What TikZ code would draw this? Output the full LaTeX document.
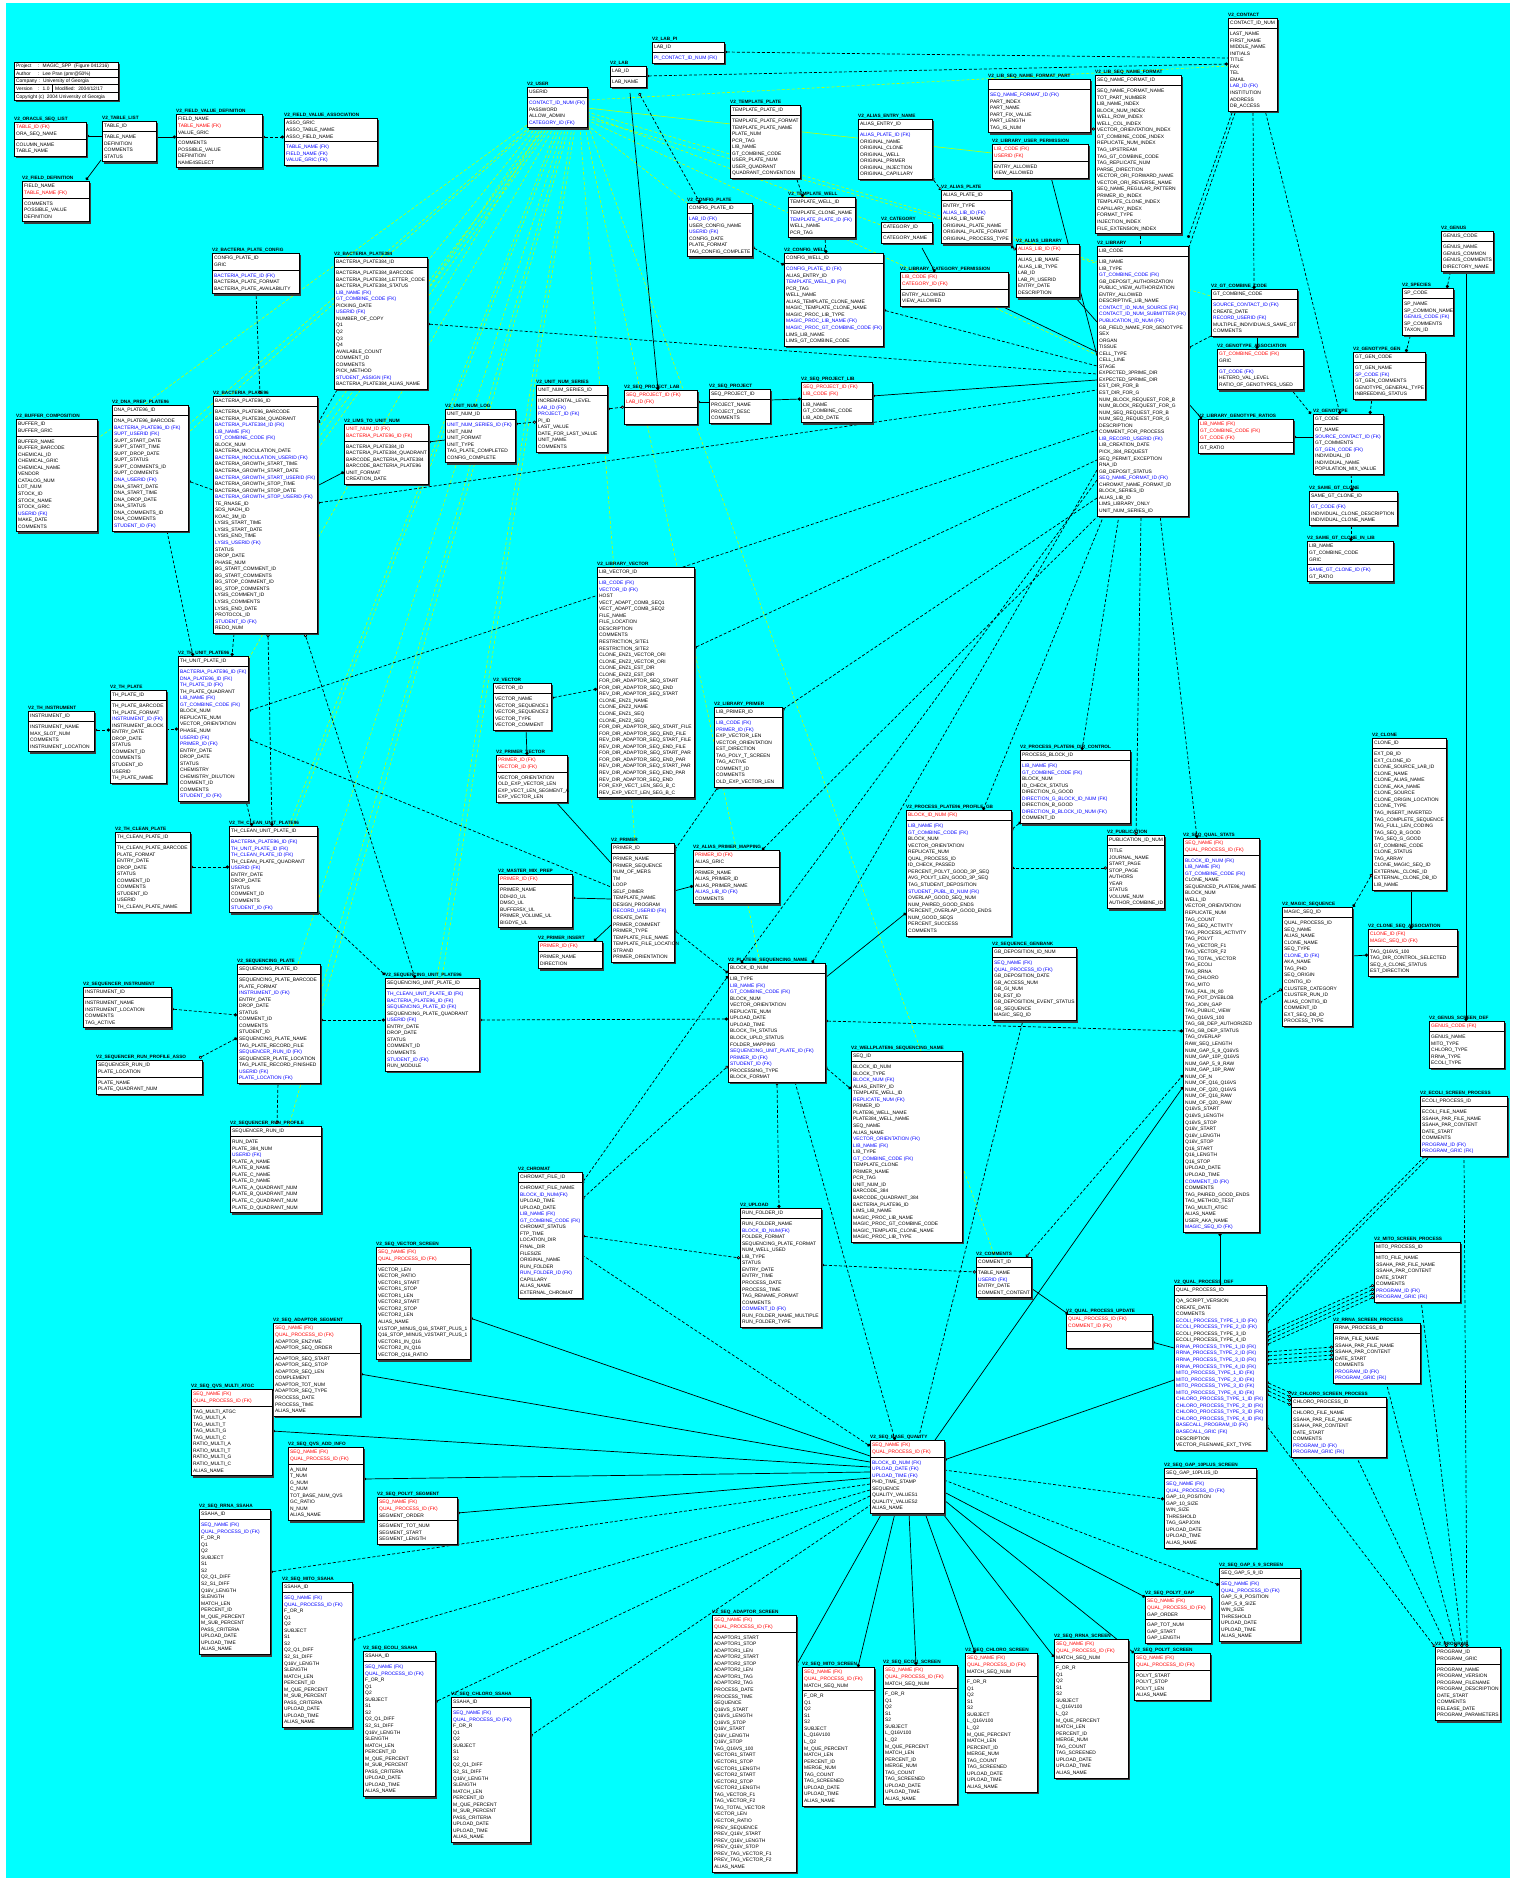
\documentclass[tikz,border=0pt]{standalone}
\usepackage{fontspec}
\setmainfont{Liberation Sans}
\usepackage{xstring}
\usetikzlibrary{calc,arrows.meta}
\pgfdeclarelayer{back}\pgfdeclarelayer{bg}
\pgfsetlayers{back,bg,main}
\definecolor{cyanbg}{RGB}{0,255,255}
\definecolor{ygreen}{RGB}{195,255,0}
\definecolor{shadowc}{RGB}{60,60,60}
\newcommand\rowfont{\fontsize{4.9}{5}\selectfont}
\newcommand\titlefont{\bfseries\fontsize{4.7}{5}\selectfont}
\newcount\nkeys \newcount\nattr
\newcommand\blank{}
\def\blankrow{\blank}
\tikzset{
  Dt/.tip={Circle[length=3.2pt]},
  Ot/.tip={Circle[open,length=3.2pt,fill=white]},
  tbox/.style={draw,fill=white,line width=0.8pt,inner sep=0pt,outer sep=0pt},
  sepline/.style={line width=0.6pt},
  ttl/.style={anchor=base west,inner sep=0pt,font=\titlefont},
  rowstyle/.style={anchor=base west,inner sep=0pt,font=\rowfont},
  ss/.style={line width=0.7pt},
  dd/.style={line width=0.7pt,dash pattern=on 3pt off 2pt},
  yl/.style={draw=ygreen,line width=0.6pt,dash pattern=on 3pt off 2pt},
  ys/.style={draw=ygreen,line width=0.6pt},
}
\newcommand\rowtxt[3]{%
  \ifx\rw\blankrow\else
    \IfSubStr{\rw}{(FK)}{\def\rc{#3}}{\def\rc{black}}%
    \node[rowstyle,text=\rc] at (#1+2,#2+1.7) {\detokenize\expandafter{\rw}};%
  \fi}
\newcommand\tb[7]{%
  \expandafter\gdef\csname X@#1\endcsname{#3}%
  \expandafter\gdef\csname Y@#1\endcsname{#4}%
  \global\nkeys=0 \foreach \rw in {#6}{\global\advance\nkeys by 1}%
  \global\nattr=0 \foreach \rw in {#7}{\global\advance\nattr by 1}%
  \pgfmathsetmacro\hk{\the\nkeys*6.55+4}%
  \pgfmathsetmacro\hb{\the\nattr*6.55+4}%
  \pgfmathsetmacro\ysp{#4+\hk}%
  \pgfmathsetmacro\ybt{#4+\hk+\hb}%
  \pgfmathsetmacro\hh{\hk+\hb}%
  \fill[shadowc] (#3+2,#4+2) rectangle (#3+#5+2,\ybt+2);
  \node[tbox,minimum width=#5pt,minimum height=\hh pt,anchor=north west] (#1) at (#3,#4) {};
  \draw[sepline] (#3,\ysp) -- (#3+#5,\ysp);
  \node[ttl] at (#3,#4-1.8) {\detokenize{#2}};
  \foreach \rw [count=\ri from 0] in {#6}{\rowtxt{#3}{#4+2+6.55*\ri+3.275}{red}}%
  \foreach \rw [count=\ri from 0] in {#7}{\rowtxt{#3}{\ysp+2+6.55*\ri+3.275}{blue}}%
}
\newcommand\cn[7][]{%
  \draw[#1] ($(#2.north west)+(#3-\csname X@#2\endcsname,#4-\csname Y@#2\endcsname)$) -- ($(#5.north west)+(#6-\csname X@#5\endcsname,#7-\csname Y@#5\endcsname)$);}
\begin{document}
\begin{tikzpicture}[x=1pt,y=-1pt]
\useasboundingbox (0,0) rectangle (1513,1878);
\begin{pgfonlayer}{back}
\fill[white] (0,0) rectangle (1513,1878);
\fill[cyanbg] (6,3) rectangle (1510,1878);
\end{pgfonlayer}
% info box
\fill[shadowc] (16,64) rectangle (120,102);
\foreach \k in {0,...,4}{\node[tbox,minimum width=104pt,minimum height=7.6pt,anchor=north west] (info\k) at (14,62+7.6*\k) {};}
\draw[line width=0.6pt] (info3.north west) ++(38,0) -- ++(0,7.6);
\node[rowstyle] at (16,67.8) {Project};
\node[rowstyle] at (38,67.8) {: \ MAGIC\_SPP \ (Figure 041216)};
\node[rowstyle] at (16,75.4) {Author};
\node[rowstyle] at (38,75.4) {: \ Lee Pran (pmr@50\%)};
\node[rowstyle] at (16,83) {Company : \ University of Georgia};
\node[rowstyle] at (16,90.6) {Version};
\node[rowstyle] at (38,90.6) {: \ 1.0};
\node[rowstyle] at (55,90.6) {Modified: \ 2004/12/17};
\node[rowstyle] at (16,98.2) {Copyright (c) \ 2004 University of Georgia};
% tables
\tb{ora}{V2_ORACLE_SEQ_LIST}{14}{122}{72}{TABLE_ID (FK),ORA_SEQ_NAME}{COLUMN_NAME,TABLE_NAME}
\tb{tl}{V2_TABLE_LIST}{102}{121}{54}{TABLE_ID}{TABLE_NAME,DEFINITION,COMMENTS,STATUS}
\tb{fvd}{V2_FIELD_VALUE_DEFINITION}{176}{114}{86}{FIELD_NAME,TABLE_NAME (FK),VALUE_GRIC}{COMMENTS,POSSIBLE_VALUE,DEFINITION,NAME4SELECT}
\tb{fva}{V2_FIELD_VALUE_ASSOCIATION}{284}{118}{93}{ASSO_GRIC,ASSO_TABLE_NAME,ASSO_FIELD_NAME}{TABLE_NAME (FK),FIELD_NAME (FK),VALUE_GRIC (FK)}
\tb{fd}{V2_FIELD_DEFINITION}{22}{181}{67}{FIELD_NAME,TABLE_NAME (FK)}{COMMENTS,POSSIBLE_VALUE,DEFINITION}
\tb{bpc}{V2_BACTERIA_PLATE_CONFIG}{212}{253}{87}{CONFIG_PLATE_ID,GRIC}{BACTERIA_PLATE_ID (FK),BACTERIA_PLATE_FORMAT,BACTERIA_PLATE_AVAILABILITY}
\tb{bpl}{V2_BACTERIA_PLATE384}{334}{257}{93}{BACTERIA_PLATE384_ID}{BACTERIA_PLATE384_BARCODE,BACTERIA_PLATE384_LETTER_CODE,BACTERIA_PLATE384_STATUS,LIB_NAME (FK),GT_COMBINE_CODE (FK),PICKING_DATE,USERID (FK),NUMBER_OF_COPY,Q1,Q2,Q3,Q4,AVAILABLE_COUNT,COMMENT_ID,COMMENTS,PICK_METHOD,STUDENT_ASSIGN (FK),BACTERIA_PLATE384_ALIAS_NAME}
\tb{bps}{V2_BACTERIA_PLATE96}{213}{396}{104}{BACTERIA_PLATE96_ID}{BACTERIA_PLATE96_BARCODE,BACTERIA_PLATE384_QUADRANT,BACTERIA_PLATE384_ID (FK),LIB_NAME (FK),GT_COMBINE_CODE (FK),BLOCK_NUM,BACTERIA_INOCULATION_DATE,BACTERIA_INOCULATION_USERID (FK),BACTERIA_GROWTH_START_TIME,BACTERIA_GROWTH_START_DATE,BACTERIA_GROWTH_START_USERID (FK),BACTERIA_GROWTH_STOP_TIME,BACTERIA_GROWTH_STOP_DATE,BACTERIA_GROWTH_STOP_USERID (FK),TE_RNASE_ID,SDS_NAOH_ID,KOAC_3M_ID,LYSIS_START_TIME,LYSIS_START_DATE,LYSIS_END_TIME,LYSIS_USERID (FK),STATUS,DROP_DATE,PHASE_NUM,BG_START_COMMENT_ID,BG_START_COMMENTS,BG_STOP_COMMENT_ID,BG_STOP_COMMENTS,LYSIS_COMMENT_ID,LYSIS_COMMENTS,LYSIS_END_DATE,PROTOCOL_ID,STUDENT_ID (FK),REDO_NUM}
\tb{dna}{V2_DNA_PREP_PLATE96}{112}{405}{76}{DNA_PLATE96_ID}{DNA_PLATE96_BARCODE,BACTERIA_PLATE96_ID (FK),SUPT_USERID (FK),SUPT_START_DATE,SUPT_START_TIME,SUPT_DROP_DATE,SUPT_STATUS,SUPT_COMMENTS_ID,SUPT_COMMENTS,DNA_USERID (FK),DNA_START_DATE,DNA_START_TIME,DNA_DROP_DATE,DNA_STATUS,DNA_COMMENTS_ID,DNA_COMMENTS,STUDENT_ID (FK)}
\tb{buf}{V2_BUFFER_COMPOSITION}{16}{419}{81}{BUFFER_ID,BUFFER_GRIC}{BUFFER_NAME,BUFFER_BARCODE,CHEMICAL_ID,CHEMICAL_GRIC,CHEMICAL_NAME,VENDOR,CATALOG_NUM,LOT_NUM,STOCK_ID,STOCK_NAME,STOCK_GRIC,USERID (FK),MAKE_DATE,COMMENTS}
\tb{lims}{V2_LIMS_TO_UNIT_NUM}{344}{424}{84}{UNIT_NUM_ID (FK),BACTERIA_PLATE96_ID (FK)}{BACTERIA_PLATE384_ID,BACTERIA_PLATE384_QUADRANT,BARCODE_BACTERIA_PLATE384,BARCODE_BACTERIA_PLATE96,UNIT_FORMAT,CREATION_DATE}
\tb{unl}{V2_UNIT_NUM_LOG}{445}{409}{70}{UNIT_NUM_ID}{UNIT_NUM_SERIES_ID (FK),UNIT_NUM,UNIT_FORMAT,UNIT_TYPE,TAG_PLATE_COMPLETED,CONFIG_COMPLETE}
\tb{labpi}{V2_LAB_PI}{652}{42}{72}{LAB_ID}{PI_CONTACT_ID_NUM (FK)}
\tb{lab}{V2_LAB}{610}{66}{36}{LAB_ID}{LAB_NAME}
\tb{user}{V2_USER}{527}{87}{60}{USERID}{CONTACT_ID_NUM (FK),PASSWORD,ALLOW_ADMIN,CATEGORY_ID (FK)}
\tb{tp}{V2_TEMPLATE_PLATE}{730}{105}{70}{TEMPLATE_PLATE_ID}{TEMPLATE_PLATE_FORMAT,TEMPLATE_PLATE_NAME,PLATE_NUM,PCR_TAG,LIB_NAME,GT_COMBINE_CODE,USER_PLATE_NUM,USER_QUADRANT,QUADRANT_CONVENTION}
\tb{aen}{V2_ALIAS_ENTRY_NAME}{858}{119}{74}{ALIAS_ENTRY_ID}{ALIAS_PLATE_ID (FK),ORIGINAL_NAME,ORIGINAL_CLONE,ORIGINAL_WELL,ORIGINAL_PRIMER,ORIGINAL_INJECTION,ORIGINAL_CAPILLARY}
\tb{cp}{V2_CONFIG_PLATE}{687}{203}{65}{CONFIG_PLATE_ID}{LAB_ID (FK),USER_CONFIG_NAME,USERID (FK),CONFIG_DATE,PLATE_FORMAT,TAG_CONFIG_COMPLETE}
\tb{tw}{V2_TEMPLATE_WELL}{788}{197}{67}{TEMPLATE_WELL_ID}{TEMPLATE_CLONE_NAME,TEMPLATE_PLATE_ID (FK),WELL_NAME,PCR_TAG}
\tb{cat}{V2_CATEGORY}{881}{222}{51}{CATEGORY_ID}{CATEGORY_NAME}
\tb{ap}{V2_ALIAS_PLATE}{941}{190}{70}{ALIAS_PLATE_ID}{ENTRY_TYPE,ALIAS_LIB_ID (FK),ALIAS_LIB_NAME,ORIGINAL_PLATE_NAME,ORIGINAL_PLATE_FORMAT,ORIGINAL_PROCESS_TYPE}
\tb{cw}{V2_CONFIG_WELL}{784}{253}{99}{CONFIG_WELL_ID}{CONFIG_PLATE_ID (FK),ALIAS_ENTRY_ID,TEMPLATE_WELL_ID (FK),PCR_TAG,WELL_NAME,ALIAS_TEMPLATE_CLONE_NAME,MAGIC_TEMPLATE_CLONE_NAME,MAGIC_PROC_LIB_TYPE,MAGIC_PROC_LIB_NAME (FK),MAGIC_PROC_GT_COMBINE_CODE (FK),LIMS_LIB_NAME,LIMS_GT_COMBINE_CODE}
\tb{lcp}{V2_LIBRARY_CATEGORY_PERMISSION}{900}{272}{108}{LIB_CODE (FK),CATEGORY_ID (FK)}{ENTRY_ALLOWED,VIEW_ALLOWED}
\tb{uns}{V2_UNIT_NUM_SERIES}{536}{385}{71}{UNIT_NUM_SERIES_ID}{INCREMENTAL_LEVEL,LAB_ID (FK),PROJECT_ID (FK),PI_ID,LAST_VALUE,DATE_FOR_LAST_VALUE,UNIT_NAME,COMMENTS}
\tb{spl}{V2_SEQ_PROJECT_LAB}{624}{390}{73}{SEQ_PROJECT_ID (FK),LAB_ID (FK)}{\blank,\blank}
\tb{sp}{V2_SEQ_PROJECT}{709}{389}{61}{SEQ_PROJECT_ID}{PROJECT_NAME,PROJECT_DESC,COMMENTS}
\tb{splib}{V2_SEQ_PROJECT_LIB}{801}{382}{71}{SEQ_PROJECT_ID (FK),LIB_CODE (FK)}{LIB_NAME,GT_COMBINE_CODE,LIB_ADD_DATE}
\tb{contact}{V2_CONTACT}{1228}{18}{49}{CONTACT_ID_NUM}{LAST_NAME,FIRST_NAME,MIDDLE_NAME,INITIALS,TITLE,FAX,TEL,EMAIL,LAB_ID (FK),INSTITUTION,ADDRESS,DB_ACCESS}
\tb{snfp}{V2_LIB_SEQ_NAME_FORMAT_PART}{988}{79}{102}{\blank}{SEQ_NAME_FORMAT_ID (FK),PART_INDEX,PART_NAME,PART_FIX_VALUE,PART_LENGTH,TAG_IS_NUM}
\tb{snf}{V2_LIB_SEQ_NAME_FORMAT}{1095}{75}{86}{SEQ_NAME_FORMAT_ID}{SEQ_NAME_FORMAT_NAME,TOT_PART_NUMBER,LIB_NAME_INDEX,BLOCK_NUM_INDEX,WELL_ROW_INDEX,WELL_COL_INDEX,VECTOR_ORIENTATION_INDEX,GT_COMBINE_CODE_INDEX,REPLICATE_NUM_INDEX,TAG_UPSTREAM,TAG_GT_COMBINE_CODE,TAG_REPLICATE_NUM,PARSE_DIRECTION,VECTOR_ORI_FORWARD_NAME,VECTOR_ORI_REVERSE_NAME,SEQ_NAME_REGULAR_PATTERN,PRIMER_ID_INDEX,TEMPLATE_CLONE_INDEX,CAPILLARY_INDEX,FORMAT_TYPE,INJECTION_INDEX,FILE_EXTENSION_INDEX}
\tb{lup}{V2_LIBRARY_USER_PERMISSION}{992}{144}{96}{LIB_CODE (FK),USERID (FK)}{ENTRY_ALLOWED,VIEW_ALLOWED}
\tb{alib}{V2_ALIAS_LIBRARY}{1016}{244}{63}{ALIAS_LIB_ID (FK)}{ALIAS_LIB_NAME,ALIAS_LIB_TYPE,LAB_ID,LAB_PI_USERID,ENTRY_DATE,DESCRIPTION}
\tb{lib}{V2_LIBRARY}{1097}{246}{91}{LIB_CODE}{LIB_NAME,LIB_TYPE,GT_COMBINE_CODE (FK),GB_DEPOSIT_AUTHORIZATION,PUBLIC_VIEW_AUTHORIZATION,ENTRY_ALLOWED,DESCRIPTIVE_LIB_NAME,CONTACT_ID_NUM_SOURCE (FK),CONTACT_ID_NUM_SUBMITTER (FK),PUBLICATION_ID_NUM (FK),GB_FIELD_NAME_FOR_GENOTYPE,SEX,ORGAN,TISSUE,CELL_TYPE,CELL_LINE,STAGE,EXPECTED_3PRIME_DIR,EXPECTED_5PRIME_DIR,EST_DIR_FOR_B,EST_DIR_FOR_G,NUM_BLOCK_REQUEST_FOR_B,NUM_BLOCK_REQUEST_FOR_G,NUM_SEQ_REQUEST_FOR_B,NUM_SEQ_REQUEST_FOR_G,DESCRIPTION,COMMENT_FOR_PROCESS,LIB_RECORD_USERID (FK),LIB_CREATION_DATE,PICK_384_REQUEST,SEQ_PERMIT_EXCEPTION,RNA_ID,GB_DEPOSIT_STATUS,SEQ_NAME_FORMAT_ID (FK),CHROMAT_NAME_FORMAT_ID,BLOCK_SERIES_ID,ALIAS_LIB_ID,LIMS_LIBRARY_ONLY,UNIT_NUM_SERIES_ID}
\tb{gcc}{V2_GT_COMBINE_CODE}{1211}{289}{86}{GT_COMBINE_CODE}{SOURCE_CONTACT_ID (FK),CREATE_DATE,RECORD_USERID (FK),MULTIPLE_INDIVIDUALS_SAME_GT,COMMENTS}
\tb{gass}{V2_GENOTYPE_ASSOCIATION}{1217}{349}{86}{GT_COMBINE_CODE (FK),GRIC}{GT_CODE (FK),HETERO_VAL_LEVEL,RATIO_OF_GENOTYPES_USED}
\tb{lgr}{V2_LIBRARY_GENOTYPE_RATIOS}{1198}{419}{95}{LIB_NAME (FK),GT_COMBINE_CODE (FK),GT_CODE (FK)}{GT_RATIO}
\tb{gt}{V2_GENOTYPE}{1313}{414}{70}{GT_CODE}{GT_NAME,SOURCE_CONTACT_ID (FK),GT_COMMENTS,GT_GEN_CODE (FK),INDIVIDUAL_ID,INDIVIDUAL_NAME,POPULATION_MIX_VALUE}
\tb{genus}{V2_GENUS}{1441}{231}{52}{GENUS_CODE}{GENUS_NAME,GENUS_COMMON,GENUS_COMMENTS,DIRECTORY_NAME}
\tb{species}{V2_SPECIES}{1402}{288}{51}{SP_CODE}{SP_NAME,SP_COMMON_NAME,GENUS_CODE (FK),SP_COMMENTS,TAXON_ID}
\tb{ggen}{V2_GENOTYPE_GEN}{1353}{352}{72}{GT_GEN_CODE}{GT_GEN_NAME,SP_CODE (FK),GT_GEN_COMMENTS,GENOTYPE_GENERAL_TYPE,INBREEDING_STATUS}
\tb{sgc}{V2_SAME_GT_CLONE}{1309}{491}{88}{SAME_GT_CLONE_ID}{GT_CODE (FK),INDIVIDUAL_CLONE_DESCRIPTION,INDIVIDUAL_CLONE_NAME}
\tb{sgcl}{V2_SAME_GT_CLONE_IN_LIB}{1307}{541}{86}{LIB_NAME,GT_COMBINE_CODE,GRIC}{SAME_GT_CLONE_ID (FK),GT_RATIO}
\tb{pdc}{V2_PROCESS_PLATE96_DIR_CONTROL}{1020}{750}{110}{PROCESS_BLOCK_ID}{LIB_NAME (FK),GT_COMBINE_CODE (FK),BLOCK_NUM,ID_CHECK_STATUS,DIRECTION_G_GOOD,DIRECTION_G_BLOCK_ID_NUM (FK),DIRECTION_B_GOOD,DIRECTION_B_BLOCK_ID_NUM (FK),COMMENT_ID}
\tb{pub}{V2_PUBLICATION}{1107}{835}{57}{PUBLICATION_ID_NUM}{TITLE,JOURNAL_NAME,START_PAGE,STOP_PAGE,AUTHORS,YEAR,STATUS,VOLUME_NUM,AUTHOR_COMBINE_ID}
\tb{sqs}{V2_SEQ_QUAL_STATS}{1183}{838}{76}{SEQ_NAME (FK),QUAL_PROCESS_ID (FK)}{BLOCK_ID_NUM (FK),LIB_NAME (FK),GT_COMBINE_CODE (FK),CLONE_NAME,SEQUENCED_PLATE96_NAME,BLOCK_NUM,WELL_ID,VECTOR_ORIENTATION,REPLICATE_NUM,TAG_COUNT,TAG_SEQ_ACTIVITY,TAG_PROCESS_ACTIVITY,TAG_POLYT,TAG_VECTOR_F1,TAG_VECTOR_F2,TAG_TOTAL_VECTOR,TAG_ECOLI,TAG_RRNA,TAG_CHLORO,TAG_MITO,TAG_FAIL_IN_80,TAG_POT_DYEBLOB,TAG_JOIN_GAP,TAG_PUBLIC_VIEW,TAG_Q16VS_100,TAG_GB_DEP_AUTHORIZED,TAG_GB_DEP_STATUS,TAG_OVERLAP,RAW_SEQ_LENGTH,NUM_GAP_5_9_Q16VS,NUM_GAP_10P_Q16VS,NUM_GAP_5_9_RAW,NUM_GAP_10P_RAW,NUM_OF_N,NUM_OF_Q16_Q16VS,NUM_OF_Q20_Q16VS,NUM_OF_Q16_RAW,NUM_OF_Q20_RAW,Q16VS_START,Q16VS_LENGTH,Q16VS_STOP,Q16V_START,Q16V_LENGTH,Q16V_STOP,Q16_START,Q16_LENGTH,Q16_STOP,UPLOAD_DATE,UPLOAD_TIME,COMMENT_ID (FK),COMMENTS,TAG_PAIRED_GOOD_ENDS,TAG_METHOD_TEST,TAG_MULTI_ATGC,ALIAS_NAME,USER_AKA_NAME,MAGIC_SEQ_ID (FK)}
\tb{clone}{V2_CLONE}{1372}{738}{74}{CLONE_ID}{EXT_DB_ID,EXT_CLONE_ID,CLONE_SOURCE_LAB_ID,CLONE_NAME,CLONE_ALIAS_NAME,CLONE_AKA_NAME,CLONE_SOURCE,CLONE_ORIGIN_LOCATION,CLONE_TYPE,TAG_INSERT_INVERTED,TAG_COMPLETE_SEQUENCE,TAG_FULL_LEN_CODING,TAG_SEQ_B_GOOD,TAG_SEQ_G_GOOD,GT_COMBINE_CODE,CLONE_STATUS,TAG_ARRAY,CLONE_MAGIC_SEQ_ID,EXTERNAL_CLONE_ID,EXTERNAL_CLONE_DB_ID,LIB_NAME}
\tb{magic}{V2_MAGIC_SEQUENCE}{1282}{907}{70}{MAGIC_SEQ_ID}{QUAL_PROCESS_ID,SEQ_NAME,ALIAS_NAME,CLONE_NAME,SEQ_TYPE,CLONE_ID (FK),AKA_NAME,TAG_PHD,SEQ_ORIGIN,CONTIG_ID,CLUSTER_CATEGORY,CLUSTER_RUN_ID,ALIAS_CONTIG_ID,COMMENT_ID,EXT_SEQ_DB_ID,PROCESS_TYPE}
\tb{csa}{V2_CLONE_SEQ_ASSOCIATION}{1368}{929}{89}{CLONE_ID (FK),MAGIC_SEQ_ID (FK)}{TAG_Q16VS_100,TAG_DIR_CONTROL_SELECTED,SEQ_4_CLONE_STATUS,EST_DIRECTION}
\tb{lv}{V2_LIBRARY_VECTOR}{597}{567}{97}{LIB_VECTOR_ID}{LIB_CODE (FK),VECTOR_ID (FK),HOST,VECT_ADAPT_COMB_SEQ1,VECT_ADAPT_COMB_SEQ2,FILE_NAME,FILE_LOCATION,DESCRIPTION,COMMENTS,RESTRICTION_SITE1,RESTRICTION_SITE2,CLONE_ENZ1_VECTOR_ORI,CLONE_ENZ2_VECTOR_ORI,CLONE_ENZ1_EST_DIR,CLONE_ENZ2_EST_DIR,FOR_DIR_ADAPTOR_SEQ_START,FOR_DIR_ADAPTOR_SEQ_END,REV_DIR_ADAPTOR_SEQ_START,CLONE_ENZ1_NAME,CLONE_ENZ2_NAME,CLONE_ENZ1_SEQ,CLONE_ENZ2_SEQ,FOR_DIR_ADAPTOR_SEQ_START_FILE,FOR_DIR_ADAPTOR_SEQ_END_FILE,REV_DIR_ADAPTOR_SEQ_START_FILE,REV_DIR_ADAPTOR_SEQ_END_FILE,FOR_DIR_ADAPTOR_SEQ_START_PAR,FOR_DIR_ADAPTOR_SEQ_END_PAR,REV_DIR_ADAPTOR_SEQ_START_PAR,REV_DIR_ADAPTOR_SEQ_END_PAR,REV_DIR_ADAPTOR_SEQ_END,FOR_EXP_VECT_LEN_SEG_B_C,REV_EXP_VECT_LEN_SEG_B_C}
\tb{vec}{V2_VECTOR}{493}{683}{58}{VECTOR_ID}{VECTOR_NAME,VECTOR_SEQUENCE1,VECTOR_SEQUENCE2,VECTOR_TYPE,VECTOR_COMMENT}
\tb{pv}{V2_PRIMER_VECTOR}{496}{755}{71}{PRIMER_ID (FK),VECTOR_ID (FK)}{VECTOR_ORIENTATION,OLD_EXP_VECTOR_LEN,EXP_VECT_LEN_SEGMENT_A,EXP_VECTOR_LEN}
\tb{lp}{V2_LIBRARY_PRIMER}{714}{707}{68}{LIB_PRIMER_ID}{LIB_CODE (FK),PRIMER_ID (FK),EXP_VECTOR_LEN,VECTOR_ORIENTATION,EST_DIRECTION,TAG_POLY_T_SCREEN,TAG_ACTIVE,COMMENT_ID,COMMENTS,OLD_EXP_VECTOR_LEN}
\tb{gb}{V2_PROCESS_PLATE96_PROFILE_GB}{906}{810}{105}{BLOCK_ID_NUM (FK)}{LIB_NAME (FK),GT_COMBINE_CODE (FK),BLOCK_NUM,VECTOR_ORIENTATION,REPLICATE_NUM,QUAL_PROCESS_ID,ID_CHECK_PASSED,PERCENT_POLYT_GOOD_3P_SEQ,AVG_POLYT_LEN_GOOD_3P_SEQ,TAG_STUDENT_DEPOSITION,STUDENT_PUBL_ID_NUM (FK),OVERLAP_GOOD_SEQ_NUM,NUM_PAIRED_GOOD_ENDS,PERCENT_OVERLAP_GOOD_ENDS,NUM_GOOD_SEQS,PERCENT_SUCCESS,COMMENTS}
\tb{primer}{V2_PRIMER}{611}{843}{63}{PRIMER_ID}{PRIMER_NAME,PRIMER_SEQUENCE,NUM_OF_MERS,TM,LOOP,SELF_DIMER,TEMPLATE_NAME,DESIGN_PROGRAM,RECORD_USERID (FK),CREATE_DATE,PRIMER_COMMENT,PRIMER_TYPE,TEMPLATE_FILE_NAME,TEMPLATE_FILE_LOCATION,STRAND,PRIMER_ORIENTATION}
\tb{apm}{V2_ALIAS_PRIMER_MAPPING}{693}{850}{86}{PRIMER_ID (FK),ALIAS_GRIC}{PRIMER_NAME,ALIAS_PRIMER_ID,ALIAS_PRIMER_NAME,ALIAS_LIB_ID (FK),COMMENTS}
\tb{mmp}{V2_MASTER_MIX_PREP}{498}{874}{74}{PRIMER_ID (FK)}{PRIMER_NAME,DDH2O_UL,DMSO_UL,BUFFER5X_UL,PRIMER_VOLUME_UL,BIGDYE_UL}
\tb{pins}{V2_PRIMER_INSERT}{538}{941}{64}{PRIMER_ID (FK)}{PRIMER_NAME,DIRECTION}
\tb{thu}{V2_TH_UNIT_PLATE96}{178}{656}{70}{TH_UNIT_PLATE_ID}{BACTERIA_PLATE96_ID (FK),DNA_PLATE96_ID (FK),TH_PLATE_ID (FK),TH_PLATE_QUADRANT,LIB_NAME (FK),GT_COMBINE_CODE (FK),BLOCK_NUM,REPLICATE_NUM,VECTOR_ORIENTATION,PHASE_NUM,USERID (FK),PRIMER_ID (FK),ENTRY_DATE,DROP_DATE,STATUS,CHEMISTRY,CHEMISTRY_DILUTION,COMMENT_ID,COMMENTS,STUDENT_ID (FK)}
\tb{thp}{V2_TH_PLATE}{110}{690}{56}{TH_PLATE_ID}{TH_PLATE_BARCODE,TH_PLATE_FORMAT,INSTRUMENT_ID (FK),INSTRUMENT_BLOCK,ENTRY_DATE,DROP_DATE,STATUS,COMMENT_ID,COMMENTS,STUDENT_ID,USERID,TH_PLATE_NAME}
\tb{thi}{V2_TH_INSTRUMENT}{28}{711}{66}{INSTRUMENT_ID}{INSTRUMENT_NAME,MAX_SLOT_NUM,COMMENTS,INSTRUMENT_LOCATION}
\tb{thcp}{V2_TH_CLEAN_PLATE}{115}{832}{75}{TH_CLEAN_PLATE_ID}{TH_CLEAN_PLATE_BARCODE,PLATE_FORMAT,ENTRY_DATE,DROP_DATE,STATUS,COMMENT_ID,COMMENTS,STUDENT_ID,USERID,TH_CLEAN_PLATE_NAME}
\tb{thcu}{V2_TH_CLEAN_UNIT_PLATE96}{229}{826}{88}{TH_CLEAN_UNIT_PLATE_ID}{BACTERIA_PLATE96_ID (FK),TH_UNIT_PLATE_ID (FK),TH_CLEAN_PLATE_ID (FK),TH_CLEAN_PLATE_QUADRANT,USERID (FK),ENTRY_DATE,DROP_DATE,STATUS,COMMENT_ID,COMMENTS,STUDENT_ID (FK)}
\tb{sqp}{V2_SEQUENCING_PLATE}{237}{964}{83}{SEQUENCING_PLATE_ID}{SEQUENCING_PLATE_BARCODE,PLATE_FORMAT,INSTRUMENT_ID (FK),ENTRY_DATE,DROP_DATE,STATUS,COMMENT_ID,COMMENTS,STUDENT_ID,SEQUENCING_PLATE_NAME,TAG_PLATE_RECORD_FILE,SEQUENCER_RUN_ID (FK),SEQUENCER_PLATE_LOCATION,TAG_PLATE_RECORD_FINISHED,USERID (FK),PLATE_LOCATION (FK)}
\tb{si}{V2_SEQUENCER_INSTRUMENT}{83}{987}{88}{INSTRUMENT_ID}{INSTRUMENT_NAME,INSTRUMENT_LOCATION,COMMENTS,TAG_ACTIVE}
\tb{srpa}{V2_SEQUENCER_RUN_PROFILE_ASSO}{96}{1060}{106}{SEQUENCER_RUN_ID,PLATE_LOCATION}{PLATE_NAME,PLATE_QUADRANT_NUM}
\tb{srp}{V2_SEQUENCER_RUN_PROFILE}{230}{1126}{91}{SEQUENCER_RUN_ID}{RUN_DATE,PLATE_384_NUM,USERID (FK),PLATE_A_NAME,PLATE_B_NAME,PLATE_C_NAME,PLATE_D_NAME,PLATE_A_QUADRANT_NUM,PLATE_B_QUADRANT_NUM,PLATE_C_QUADRANT_NUM,PLATE_D_QUADRANT_NUM}
\tb{sup}{V2_SEQUENCING_UNIT_PLATE96}{385}{978}{94}{SEQUENCING_UNIT_PLATE_ID}{TH_CLEAN_UNIT_PLATE_ID (FK),BACTERIA_PLATE96_ID (FK),SEQUENCING_PLATE_ID (FK),SEQUENCING_PLATE_QUADRANT,USERID (FK),ENTRY_DATE,DROP_DATE,STATUS,COMMENT_ID,COMMENTS,STUDENT_ID (FK),RUN_MODULE}
\tb{svs}{V2_SEQ_VECTOR_SCREEN}{376}{1247}{94}{SEQ_NAME (FK),QUAL_PROCESS_ID (FK)}{VECTOR_LEN,VECTOR_RATIO,VECTOR1_START,VECTOR1_STOP,VECTOR1_LEN,VECTOR2_START,VECTOR2_STOP,VECTOR2_LEN,ALIAS_NAME,V1STOP_MINUS_Q16_START_PLUS_1,Q16_STOP_MINUS_V2START_PLUS_1,VECTOR1_IN_Q16,VECTOR2_IN_Q16,VECTOR_Q16_RATIO}
\tb{sas}{V2_SEQ_ADAPTOR_SEGMENT}{273}{1323}{87}{SEQ_NAME (FK),QUAL_PROCESS_ID (FK),ADAPTOR_ENZYME,ADAPTOR_SEQ_ORDER}{ADAPTOR_SEQ_START,ADAPTOR_SEQ_STOP,ADAPTOR_SEQ_LEN,COMPLEMENT,ADAPTOR_TOT_NUM,ADAPTOR_SEQ_TYPE,PROCESS_DATE,PROCESS_TIME,ALIAS_NAME}
\tb{sqm}{V2_SEQ_QVS_MULTI_ATGC}{191}{1389}{81}{SEQ_NAME (FK),QUAL_PROCESS_ID (FK)}{TAG_MULTI_ATGC,TAG_MULTI_A,TAG_MULTI_T,TAG_MULTI_G,TAG_MULTI_C,RATIO_MULTI_A,RATIO_MULTI_T,RATIO_MULTI_G,RATIO_MULTI_C,ALIAS_NAME}
\tb{sqa}{V2_SEQ_QVS_ADD_INFO}{288}{1447}{75}{SEQ_NAME (FK),QUAL_PROCESS_ID (FK)}{A_NUM,T_NUM,G_NUM,C_NUM,TOT_BASE_NUM_QVS,GC_RATIO,N_NUM,ALIAS_NAME}
\tb{sps}{V2_SEQ_POLYT_SEGMENT}{377}{1497}{80}{SEQ_NAME (FK),QUAL_PROCESS_ID (FK),SEGMENT_ORDER}{SEGMENT_TOT_NUM,SEGMENT_START,SEGMENT_LENGTH}
\tb{srs}{V2_SEQ_RRNA_SSAHA}{199}{1509}{71}{SSAHA_ID}{SEQ_NAME (FK),QUAL_PROCESS_ID (FK),F_OR_R,Q1,Q2,SUBJECT,S1,S2,Q2_Q1_DIFF,S2_S1_DIFF,Q16V_LENGTH,SLENGTH,MATCH_LEN,PERCENT_ID,M_QUE_PERCENT,M_SUB_PERCENT,PASS_CRITERIA,UPLOAD_DATE,UPLOAD_TIME,ALIAS_NAME}
\tb{sms}{V2_SEQ_MITO_SSAHA}{282}{1582}{70}{SSAHA_ID}{SEQ_NAME (FK),QUAL_PROCESS_ID (FK),F_OR_R,Q1,Q2,SUBJECT,S1,S2,Q2_Q1_DIFF,S2_S1_DIFF,Q16V_LENGTH,SLENGTH,MATCH_LEN,PERCENT_ID,M_QUE_PERCENT,M_SUB_PERCENT,PASS_CRITERIA,UPLOAD_DATE,UPLOAD_TIME,ALIAS_NAME}
\tb{ses}{V2_SEQ_ECOLI_SSAHA}{363}{1651}{72}{SSAHA_ID}{SEQ_NAME (FK),QUAL_PROCESS_ID (FK),F_OR_R,Q1,Q2,SUBJECT,S1,S2,Q2_Q1_DIFF,S2_S1_DIFF,Q16V_LENGTH,SLENGTH,MATCH_LEN,PERCENT_ID,M_QUE_PERCENT,M_SUB_PERCENT,PASS_CRITERIA,UPLOAD_DATE,UPLOAD_TIME,ALIAS_NAME}
\tb{scs}{V2_SEQ_CHLORO_SSAHA}{451}{1697}{79}{SSAHA_ID}{SEQ_NAME (FK),QUAL_PROCESS_ID (FK),F_OR_R,Q1,Q2,SUBJECT,S1,S2,Q2_Q1_DIFF,S2_S1_DIFF,Q16V_LENGTH,SLENGTH,MATCH_LEN,PERCENT_ID,M_QUE_PERCENT,M_SUB_PERCENT,PASS_CRITERIA,UPLOAD_DATE,UPLOAD_TIME,ALIAS_NAME}
\tb{sbq}{V2_SEQ_BASE_QUALITY}{870}{1440}{74}{SEQ_NAME (FK),QUAL_PROCESS_ID (FK)}{BLOCK_ID_NUM (FK),UPLOAD_DATE (FK),UPLOAD_TIME (FK),PHD_TIME_STAMP,SEQUENCE,QUALITY_VALUES1,QUALITY_VALUES2,ALIAS_NAME}
\tb{sads}{V2_SEQ_ADAPTOR_SCREEN}{712}{1615}{84}{SEQ_NAME (FK),QUAL_PROCESS_ID (FK)}{ADAPTOR1_START,ADAPTOR1_STOP,ADAPTOR1_LEN,ADAPTOR2_START,ADAPTOR2_STOP,ADAPTOR2_LEN,ADAPTOR1_TAG,ADAPTOR2_TAG,PROCESS_DATE,PROCESS_TIME,SEQUENCE,Q16VS_START,Q16VS_LENGTH,Q16VS_STOP,Q16V_START,Q16V_LENGTH,Q16V_STOP,TAG_Q16VS_100,VECTOR1_START,VECTOR1_STOP,VECTOR1_LENGTH,VECTOR2_START,VECTOR2_STOP,VECTOR2_LENGTH,TAG_VECTOR_F1,TAG_VECTOR_F2,TAG_TOTAL_VECTOR,VECTOR_LEN,VECTOR_RATIO,PREV_SEQUENCE,PREV_Q16V_START,PREV_Q16V_LENGTH,PREV_Q16V_STOP,PREV_TAG_VECTOR_F1,PREV_TAG_VECTOR_F2,ALIAS_NAME}
\tb{smsc}{V2_SEQ_MITO_SCREEN}{802}{1667}{72}{SEQ_NAME (FK),QUAL_PROCESS_ID (FK),MATCH_SEQ_NUM}{F_OR_R,Q1,Q2,S1,S2,SUBJECT,L_Q16V100,L_Q2,M_QUE_PERCENT,MATCH_LEN,PERCENT_ID,MERGE_NUM,TAG_COUNT,TAG_SCREENED,UPLOAD_DATE,UPLOAD_TIME,ALIAS_NAME}
\tb{sesc}{V2_SEQ_ECOLI_SCREEN}{883}{1665}{74}{SEQ_NAME (FK),QUAL_PROCESS_ID (FK),MATCH_SEQ_NUM}{F_OR_R,Q1,Q2,S1,S2,SUBJECT,L_Q16V100,L_Q2,M_QUE_PERCENT,MATCH_LEN,PERCENT_ID,MERGE_NUM,TAG_COUNT,TAG_SCREENED,UPLOAD_DATE,UPLOAD_TIME,ALIAS_NAME}
\tb{scsc}{V2_SEQ_CHLORO_SCREEN}{965}{1653}{72}{SEQ_NAME (FK),QUAL_PROCESS_ID (FK),MATCH_SEQ_NUM}{F_OR_R,Q1,Q2,S1,S2,SUBJECT,L_Q16V100,L_Q2,M_QUE_PERCENT,MATCH_LEN,PERCENT_ID,MERGE_NUM,TAG_COUNT,TAG_SCREENED,UPLOAD_DATE,UPLOAD_TIME,ALIAS_NAME}
\tb{srsc}{V2_SEQ_RRNA_SCREEN}{1054}{1639}{74}{SEQ_NAME (FK),QUAL_PROCESS_ID (FK),MATCH_SEQ_NUM}{F_OR_R,Q1,Q2,S1,S2,SUBJECT,L_Q16V100,L_Q2,M_QUE_PERCENT,MATCH_LEN,PERCENT_ID,MERGE_NUM,TAG_COUNT,TAG_SCREENED,UPLOAD_DATE,UPLOAD_TIME,ALIAS_NAME}
\tb{spsc}{V2_SEQ_POLYT_SCREEN}{1134}{1653}{76}{SEQ_NAME (FK),QUAL_PROCESS_ID (FK)}{POLYT_START,POLYT_STOP,POLYT_LEN,ALIAS_NAME}
\tb{spg}{V2_SEQ_POLYT_GAP}{1145}{1596}{66}{SEQ_NAME (FK),QUAL_PROCESS_ID (FK),GAP_ORDER}{GAP_TOT_NUM,GAP_START,GAP_LENGTH}
\tb{sgf}{V2_SEQ_GAP_5_9_SCREEN}{1219}{1568}{81}{SEQ_GAP_5_9_ID}{SEQ_NAME (FK),QUAL_PROCESS_ID (FK),GAP_5_9_POSITION,GAP_5_9_SIZE,WIN_SIZE,THRESHOLD,UPLOAD_DATE,UPLOAD_TIME,ALIAS_NAME}
\tb{sgt}{V2_SEQ_GAP_10PLUS_SCREEN}{1164}{1468}{92}{SEQ_GAP_10PLUS_ID}{SEQ_NAME (FK),QUAL_PROCESS_ID (FK),GAP_10_POSITION,GAP_10_SIZE,WIN_SIZE,THRESHOLD,TAG_GAPJOIN,UPLOAD_DATE,UPLOAD_TIME,ALIAS_NAME}
\tb{prog}{V2_PROGRAM}{1435}{1647}{65}{PROGRAM_ID,PROGRAM_GRIC}{PROGRAM_NAME,PROGRAM_VERSION,PROGRAM_FILENAME,PROGRAM_DESCRIPTION,DATE_START,COMMENTS,RELEASE_DATE,PROGRAM_PARAMETERS}
\tb{sgb}{V2_SEQUENCE_GENBANK}{992}{947}{84}{GB_DEPOSITION_ID_NUM}{SEQ_NAME (FK),QUAL_PROCESS_ID (FK),GB_DEPOSITION_DATE,GB_ACCESS_NUM,GB_GI_NUM,DB_EST_ID,GB_DEPOSITION_EVENT_STATUS,GB_SEQUENCE,MAGIC_SEQ_ID}
\tb{gsd}{V2_GENUS_SCREEN_DEF}{1429}{1021}{75}{GENUS_CODE (FK)}{GENUS_NAME,MITO_TYPE,CHLORO_TYPE,RRNA_TYPE,ECOLI_TYPE}
\tb{esp}{V2_ECOLI_SCREEN_PROCESS}{1420}{1096}{87}{ECOLI_PROCESS_ID}{ECOLI_FILE_NAME,SSAHA_PAR_FILE_NAME,SSAHA_PAR_CONTENT,DATE_START,COMMENTS,PROGRAM_ID (FK),PROGRAM_GRIC (FK)}
\tb{msp}{V2_MITO_SCREEN_PROCESS}{1374}{1242}{86}{MITO_PROCESS_ID}{MITO_FILE_NAME,SSAHA_PAR_FILE_NAME,SSAHA_PAR_CONTENT,DATE_START,COMMENTS,PROGRAM_ID (FK),PROGRAM_GRIC (FK)}
\tb{rsp}{V2_RRNA_SCREEN_PROCESS}{1333}{1323}{87}{RRNA_PROCESS_ID}{RRNA_FILE_NAME,SSAHA_PAR_FILE_NAME,SSAHA_PAR_CONTENT,DATE_START,COMMENTS,PROGRAM_ID (FK),PROGRAM_GRIC (FK)}
\tb{csp}{V2_CHLORO_SCREEN_PROCESS}{1291}{1397}{95}{CHLORO_PROCESS_ID}{CHLORO_FILE_NAME,SSAHA_PAR_FILE_NAME,SSAHA_PAR_CONTENT,DATE_START,COMMENTS,PROGRAM_ID (FK),PROGRAM_GRIC (FK)}
\tb{qpd}{V2_QUAL_PROCESS_DEF}{1174}{1285}{92}{QUAL_PROCESS_ID}{QA_SCRIPT_VERSION,CREATE_DATE,COMMENTS,ECOLI_PROCESS_TYPE_1_ID (FK),ECOLI_PROCESS_TYPE_2_ID (FK),ECOLI_PROCESS_TYPE_3_ID,ECOLI_PROCESS_TYPE_4_ID,RRNA_PROCESS_TYPE_1_ID (FK),RRNA_PROCESS_TYPE_2_ID (FK),RRNA_PROCESS_TYPE_3_ID (FK),RRNA_PROCESS_TYPE_4_ID (FK),MITO_PROCESS_TYPE_1_ID (FK),MITO_PROCESS_TYPE_2_ID (FK),MITO_PROCESS_TYPE_3_ID (FK),MITO_PROCESS_TYPE_4_ID (FK),CHLORO_PROCESS_TYPE_1_ID (FK),CHLORO_PROCESS_TYPE_2_ID (FK),CHLORO_PROCESS_TYPE_3_ID (FK),CHLORO_PROCESS_TYPE_4_ID (FK),BASECALL_PROGRAM_ID (FK),BASECALL_GRIC (FK),DESCRIPTION,VECTOR_FILENAME_EXT_TYPE}
\tb{qpu}{V2_QUAL_PROCESS_UPDATE}{1066}{1314}{86}{QUAL_PROCESS_ID (FK),COMMENT_ID (FK)}{\blank,\blank}
\tb{com}{V2_COMMENTS}{976}{1257}{55}{COMMENT_ID}{TABLE_NAME,USERID (FK),ENTRY_DATE,COMMENT_CONTENT}
\tb{psn}{V2_PLATE96_SEQUENCING_NAME}{728}{963}{97}{BLOCK_ID_NUM}{LIB_TYPE,LIB_NAME (FK),GT_COMBINE_CODE (FK),BLOCK_NUM,VECTOR_ORIENTATION,REPLICATE_NUM,UPLOAD_DATE,UPLOAD_TIME,BLOCK_TH_STATUS,BLOCK_UPLD_STATUS,FOLDER_MAPPING,SEQUENCING_UNIT_PLATE_ID (FK),PRIMER_ID (FK),STUDENT_ID (FK),PROCESSING_TYPE,BLOCK_FORMAT}
\tb{wsn}{V2_WELLPLATE96_SEQUENCING_NAME}{851}{1051}{111}{SEQ_ID}{BLOCK_ID_NUM,BLOCK_TYPE,BLOCK_NUM (FK),ALIAS_ENTRY_ID,TEMPLATE_WELL_ID,REPLICATE_NUM (FK),PRIMER_ID,PLATE96_WELL_NAME,PLATE384_WELL_NAME,SEQ_NAME,ALIAS_NAME,VECTOR_ORIENTATION (FK),LIB_NAME (FK),LIB_TYPE,GT_COMBINE_CODE (FK),TEMPLATE_CLONE,PRIMER_NAME,PCR_TAG,UNIT_NUM_ID,BARCODE_384,BARCODE_QUADRANT_384,BACTERIA_PLATE96_ID,LIMS_LIB_NAME,MAGIC_PROC_LIB_NAME,MAGIC_PROC_GT_COMBINE_CODE,MAGIC_TEMPLATE_CLONE_NAME,MAGIC_PROC_LIB_TYPE}
\tb{chromat}{V2_CHROMAT}{518}{1172}{64}{CHROMAT_FILE_ID}{CHROMAT_FILE_NAME,BLOCK_ID_NUM(FK),UPLOAD_TIME,UPLOAD_DATE,LIB_NAME (FK),GT_COMBINE_CODE (FK),CHROMAT_STATUS,FTP_TIME,LOCATION_DIR,FINAL_DIR,FILESIZE,ORIGINAL_NAME,RUN_FOLDER,RUN_FOLDER_ID (FK),CAPILLARY,ALIAS_NAME,EXTERNAL_CHROMAT}
\tb{upload}{V2_UPLOAD}{740}{1208}{81}{RUN_FOLDER_ID}{RUN_FOLDER_NAME,BLOCK_ID_NUM(FK),FOLDER_FORMAT,SEQUENCING_PLATE_FORMAT,NUM_WELL_USED,LIB_TYPE,STATUS,ENTRY_DATE,ENTRY_TIME,PROCESS_DATE,PROCESS_TIME,TAG_RENAME_FORMAT,COMMENTS,COMMENT_ID (FK),RUN_FOLDER_NAME_MULTIPLE,RUN_FOLDER_TYPE}
% connectors
\begin{pgfonlayer}{bg}
% yellow-green USERID links
\cn[yl]{user}{527}{125}{buf}{97}{439}
\cn[yl]{user}{530}{127}{dna}{188}{425}
\cn[yl]{user}{533}{127}{dna}{188}{433}
\cn[yl]{user}{536}{127}{bpl}{427}{262}
\cn[yl]{user}{539}{127}{bpl}{427}{290}
\cn[yl]{user}{542}{127}{bpl}{427}{318}
\cn[yl]{user}{545}{127}{bps}{317}{430}
\cn[yl]{user}{548}{127}{bps}{317}{440}
\cn[yl]{user}{551}{127}{bps}{317}{450}
\cn[yl]{user}{554}{127}{thu}{248}{660}
\cn[yl]{user}{557}{127}{thcu}{289}{826}
\cn[yl]{user}{560}{127}{thcu}{293}{826}
\cn[yl]{user}{563}{127}{sqp}{298}{964}
\cn[yl]{user}{566}{127}{sqp}{320}{995}
\cn[yl]{user}{569}{127}{srp}{289}{1126}
\cn[yl]{user}{572}{127}{sup}{437}{978}
\cn[yl]{user}{575}{127}{sup}{442}{978}
\cn[yl]{user}{580}{127}{primer}{635}{843}
\cn[yl]{user}{585}{127}{psn}{760}{963}
\cn[yl]{user}{587}{122}{com}{995}{1257}
\cn[yl]{user}{587}{100}{contact}{1228}{66}
\cn[ys]{user}{587}{108}{lup}{992}{153}
\cn[yl]{user}{587}{115}{cat}{881}{225}
\cn[yl]{user}{587}{125}{cp}{687}{203}
\cn[yl]{user}{587}{112}{lib}{1097}{262}
\cn[yl]{user}{587}{118}{gcc}{1211}{296}
\cn[yl]{user}{587}{120}{lib}{1097}{355}
% black links
\cn[ss,-Dt]{tl}{102}{136}{ora}{86}{136}
\cn[ss,-Dt]{tl}{101}{160}{fd}{86}{180}
\cn[ss,-Dt]{tl}{156}{137}{fvd}{176}{137}
\cn[dd,Ot-Dt]{fvd}{262}{137}{fva}{284}{137}
\cn[dd,Dt-Ot]{bpc}{256}{293}{bps}{260}{394}
\cn[dd,Dt-]{bpl}{427}{324}{lib}{1097}{374}
\cn[dd,-Dt]{bpl}{337}{390}{bps}{318}{423}
\cn[ss,-Dt]{bps}{317}{486}{lims}{344}{472}
\cn[ss,-Dt]{unl}{445}{440}{lims}{428}{442}
\cn[dd,Dt-Ot]{unl}{515}{424}{uns}{536}{422}
\cn[dd,Dt-Ot]{uns}{607}{409}{spl}{624}{407}
\cn[ss,-Dt]{sp}{709}{402}{spl}{697}{402}
\cn[ss,-Dt]{sp}{770}{400}{splib}{801}{399}
\cn[ss,Dt-]{splib}{872}{396}{lib}{1097}{380}
\cn[ss,-Dt]{lab}{630}{93}{spl}{658}{390}
\cn[dd,Ot-Dt]{lab}{639}{93}{cp}{700}{203}
\cn[dd,Ot-Dt]{lab}{646}{76}{contact}{1228}{64}
\cn[dd,Dt-]{labpi}{724}{52}{contact}{1228}{58}
\cn[dd,Ot-Dt]{tp}{796}{177}{tw}{803}{197}
\cn[dd,Ot-Dt]{tw}{825}{237}{cw}{826}{253}
\cn[dd,Ot-Dt]{cp}{752}{247}{cw}{784}{265}
\cn[dd,Dt-Ot]{aen}{932}{178}{ap}{941}{190}
\cn[dd,Ot-Dt]{alib}{1016}{250}{ap}{1011}{246}
\cn[ss,-Dt]{cat}{922}{248}{lcp}{935}{272}
\cn[ss,Dt-]{lcp}{997}{304}{lib}{1097}{352}
\cn[ss,Dt-]{lup}{1051}{177}{lib}{1097}{356}
\cn[dd,Dt-]{cw}{883}{310}{lib}{1097}{366}
\cn[ss,Dt-]{alib}{1075}{297}{lib}{1097}{322}
\cn[dd,Dt-]{snf}{1140}{233}{lib}{1140}{246}
\cn[dd,Ot-]{snf}{1095}{129}{snfp}{1090}{129}
\cn[dd,Ot-Dt]{contact}{1233}{110}{lib}{1188}{238}
\cn[dd,Ot-Dt]{contact}{1236}{110}{lib}{1188}{250}
\cn[dd,Ot-Dt]{contact}{1253}{110}{gcc}{1254}{289}
\cn[dd,Ot-Dt]{contact}{1265}{110}{gt}{1340}{414}
\cn[dd,Dt-]{lib}{1188}{348}{gcc}{1211}{336}
\cn[ss,-Dt]{gcc}{1257}{334}{gass}{1257}{349}
\cn[dd,-Dt]{gass}{1290}{388}{gt}{1311}{414}
\cn[ss,-Dt]{lib}{1188}{403}{lgr}{1202}{419}
\cn[ss,-Dt]{gt}{1313}{437}{lgr}{1293}{437}
\cn[dd,Ot-Dt]{ggen}{1372}{398}{gt}{1370}{414}
\cn[dd,Ot-Dt]{species}{1411}{333}{ggen}{1406}{352}
\cn[dd,Ot-Dt]{genus}{1451}{269}{species}{1447}{288}
\cn[ss,-Dt]{genus}{1466}{269}{gsd}{1466}{1021}
\cn[dd,Ot-Dt]{gt}{1351}{472}{sgc}{1352}{491}
\cn[dd,Ot-Dt]{sgc}{1351}{523}{sgcl}{1351}{541}
\cn[dd,-Dt]{lib}{1119}{515}{pdc}{1082}{750}
\cn[dd,Dt-Ot]{lib}{1141}{515}{pub}{1136}{835}
\cn[dd,Ot-Dt]{lib}{1160}{515}{sqs}{1197}{838}
\cn[dd,Dt-Ot]{pdc}{1021}{822}{gb}{1011}{830}
\cn[dd,Ot-Dt]{pub}{1107}{868}{gb}{1011}{868}
\cn[dd,Ot-Dt]{clone}{1372}{874}{magic}{1353}{907}
\cn[ss,-Dt]{clone}{1411}{890}{csa}{1411}{929}
\cn[ss,-Dt]{magic}{1352}{956}{csa}{1368}{955}
\cn[dd,Ot-Dt]{magic}{1282}{989}{sqs}{1259}{1003}
\cn[dd,Ot-Dt]{psn}{825}{1021}{sqs}{1183}{1031}
\cn[dd,Dt-]{sgb}{1023}{1020}{sbq}{918}{1440}
\cn[ss,Dt-]{sqs}{1220}{1233}{qpd}{1220}{1285}
\cn[dd,Ot-Dt]{com}{1026}{1257}{sqs}{1183}{1075}
\cn[ss,-Dt]{sbq}{935}{1440}{sqs}{1183}{1087}
\cn[ss,-Dt]{com}{1031}{1288}{qpu}{1068}{1314}
\cn[ss,-Dt]{qpd}{1174}{1348}{qpu}{1152}{1342}
\cn[ss,-Dt]{qpd}{1174}{1380}{sbq}{944}{1460}
\cn[dd,Dt-Ot]{qpd}{1266}{1317}{esp}{1426}{1155}
\cn[dd,Dt-Ot]{qpd}{1266}{1323}{esp}{1431}{1155}
\cn[dd,Dt-Ot]{qpd}{1266}{1333}{msp}{1374}{1285}
\cn[dd,Dt-Ot]{qpd}{1266}{1337}{msp}{1374}{1289}
\cn[dd,Dt-Ot]{qpd}{1266}{1341}{msp}{1374}{1293}
\cn[dd,Dt-Ot]{qpd}{1266}{1345}{msp}{1374}{1297}
\cn[dd,Dt-Ot]{qpd}{1266}{1352}{rsp}{1333}{1347}
\cn[dd,Dt-Ot]{qpd}{1266}{1356}{rsp}{1333}{1351}
\cn[dd,Dt-Ot]{qpd}{1266}{1360}{rsp}{1333}{1355}
\cn[dd,Dt-Ot]{qpd}{1266}{1364}{rsp}{1333}{1359}
\cn[dd,Dt-Ot]{qpd}{1266}{1382}{csp}{1291}{1393}
\cn[dd,Dt-Ot]{qpd}{1266}{1386}{csp}{1291}{1397}
\cn[dd,Dt-Ot]{qpd}{1266}{1390}{csp}{1291}{1401}
\cn[dd,Dt-Ot]{qpd}{1266}{1394}{csp}{1291}{1405}
\cn[dd,-Ot]{esp}{1464}{1155}{prog}{1467}{1647}
\cn[dd,-Ot]{msp}{1421}{1300}{prog}{1462}{1647}
\cn[dd,-Ot]{rsp}{1386}{1382}{prog}{1456}{1647}
\cn[dd,-Ot]{csp}{1356}{1456}{prog}{1447}{1647}
\cn[dd,Dt-Ot]{qpd}{1266}{1425}{prog}{1435}{1647}
\cn[ss,-Dt]{sbq}{870}{1456}{svs}{470}{1318}
\cn[ss,-Dt]{sbq}{870}{1462}{sas}{360}{1374}
\cn[ss,-Dt]{sbq}{870}{1467}{sqm}{272}{1431}
\cn[ss,-Dt]{sbq}{870}{1472}{sqa}{363}{1479}
\cn[ss,-Dt]{sbq}{870}{1478}{sps}{457}{1513}
\cn[dd,-Dt]{sbq}{870}{1484}{srs}{270}{1572}
\cn[dd,-Dt]{sbq}{870}{1490}{sms}{352}{1640}
\cn[dd,-Dt]{sbq}{870}{1496}{ses}{435}{1702}
\cn[dd,-Dt]{sbq}{872}{1504}{scs}{530}{1736}
\cn[ss,-Dt]{sbq}{882}{1513}{sads}{796}{1666}
\cn[ss,-Dt]{sbq}{895}{1513}{smsc}{858}{1667}
\cn[ss,-Dt]{sbq}{909}{1513}{sesc}{916}{1665}
\cn[ss,-Dt]{sbq}{925}{1513}{scsc}{975}{1653}
\cn[ss,-Dt]{sbq}{940}{1510}{srsc}{1054}{1657}
\cn[ss,-Dt]{sbq}{944}{1500}{spsc}{1134}{1653}
\cn[ss,-Dt]{sbq}{944}{1492}{spg}{1145}{1597}
\cn[dd,-Dt]{sbq}{944}{1480}{sgf}{1219}{1585}
\cn[dd,-Dt]{sbq}{944}{1470}{sgt}{1164}{1499}
\cn[dd,Ot-Dt]{primer}{674}{930}{psn}{728}{973}
\cn[dd,-Dt]{lib}{1097}{480}{psn}{741}{963}
\cn[dd,-Dt]{lib}{1097}{470}{psn}{812}{963}
\cn[ss,-Dt]{psn}{825}{978}{gb}{906}{913}
\cn[dd,Ot-Dt]{sup}{479}{1020}{psn}{728}{1019}
\cn[dd,Dt-Dt]{psn}{728}{976}{chromat}{582}{1183}
\cn[dd,Ot-Dt]{psn}{728}{1066}{chromat}{582}{1199}
\cn[dd,Ot-Dt]{psn}{825}{1067}{wsn}{851}{1089}
\cn[dd,Ot-Dt]{psn}{777}{1082}{upload}{779}{1208}
\cn[dd,-Dt]{psn}{795}{1082}{sbq}{895}{1440}
\cn[dd,Dt-Ot]{chromat}{582}{1236}{upload}{740}{1258}
\cn[dd,-Dt]{chromat}{582}{1255}{sbq}{870}{1446}
\cn[dd,Dt-Ot]{upload}{821}{1265}{com}{976}{1272}
\cn[dd,Ot-Dt]{si}{171}{1009}{sqp}{237}{1015}
\cn[dd,Ot-Dt]{srpa}{199}{1058}{sqp}{237}{1038}
\cn[dd,Dt-Ot]{sqp}{278}{1082}{srp}{277}{1124}
\cn[dd,Ot-Dt]{sqp}{320}{1020}{sup}{385}{1020}
\cn[dd,Ot-Dt]{thcu}{317}{911}{sup}{385}{975}
\cn[dd,Ot-Dt]{bps}{305}{634}{sup}{415}{978}
\cn[dd,-Dt]{bps}{234}{634}{thu}{232}{656}
\cn[dd,-Dt]{dna}{167}{531}{thu}{193}{656}
\cn[dd,Ot-Dt]{bps}{268}{634}{thcu}{272}{826}
\cn[dd,Ot-Dt]{thu}{246}{801}{thcu}{252}{826}
\cn[dd,-Dt]{thp}{166}{729}{thu}{178}{729}
\cn[dd,Ot-Dt]{thi}{94}{730}{thp}{110}{730}
\cn[dd,Ot-Dt]{thcp}{190}{867}{thcu}{229}{867}
\cn[dd,Dt-]{thu}{248}{711}{lib}{1097}{430}
\cn[dd,Dt-]{thu}{248}{739}{primer}{611}{887}
\cn[dd,Dt-]{bps}{317}{503}{lib}{1097}{390}
\cn[dd,Dt-]{dna}{188}{481}{bps}{213}{490}
\cn[dd,Ot-Dt]{vec}{551}{698}{lv}{597}{689}
\cn[dd,Dt-]{lv}{694}{648}{lib}{1097}{460}
\cn[ss,-Dt]{vec}{526}{729}{pv}{527}{755}
\cn[ss,Dt-]{pv}{555}{801}{primer}{611}{863}
\cn[ss,Dt-]{mmp}{572}{898}{primer}{611}{899}
\cn[ss,Dt-]{pins}{594}{941}{primer}{611}{925}
\cn[ss,-Dt]{primer}{674}{891}{apm}{693}{886}
\cn[dd,Dt-Ot]{lp}{718}{787}{primer}{674}{851}
\cn[dd,-Dt]{lib}{1097}{498}{lp}{782}{710}
\cn[dd,-Dt]{lib}{1099}{515}{apm}{762}{850}
\cn[dd,-Dt]{lib}{1104}{515}{gb}{983}{810}
\end{pgfonlayer}
\end{tikzpicture}
\end{document}
